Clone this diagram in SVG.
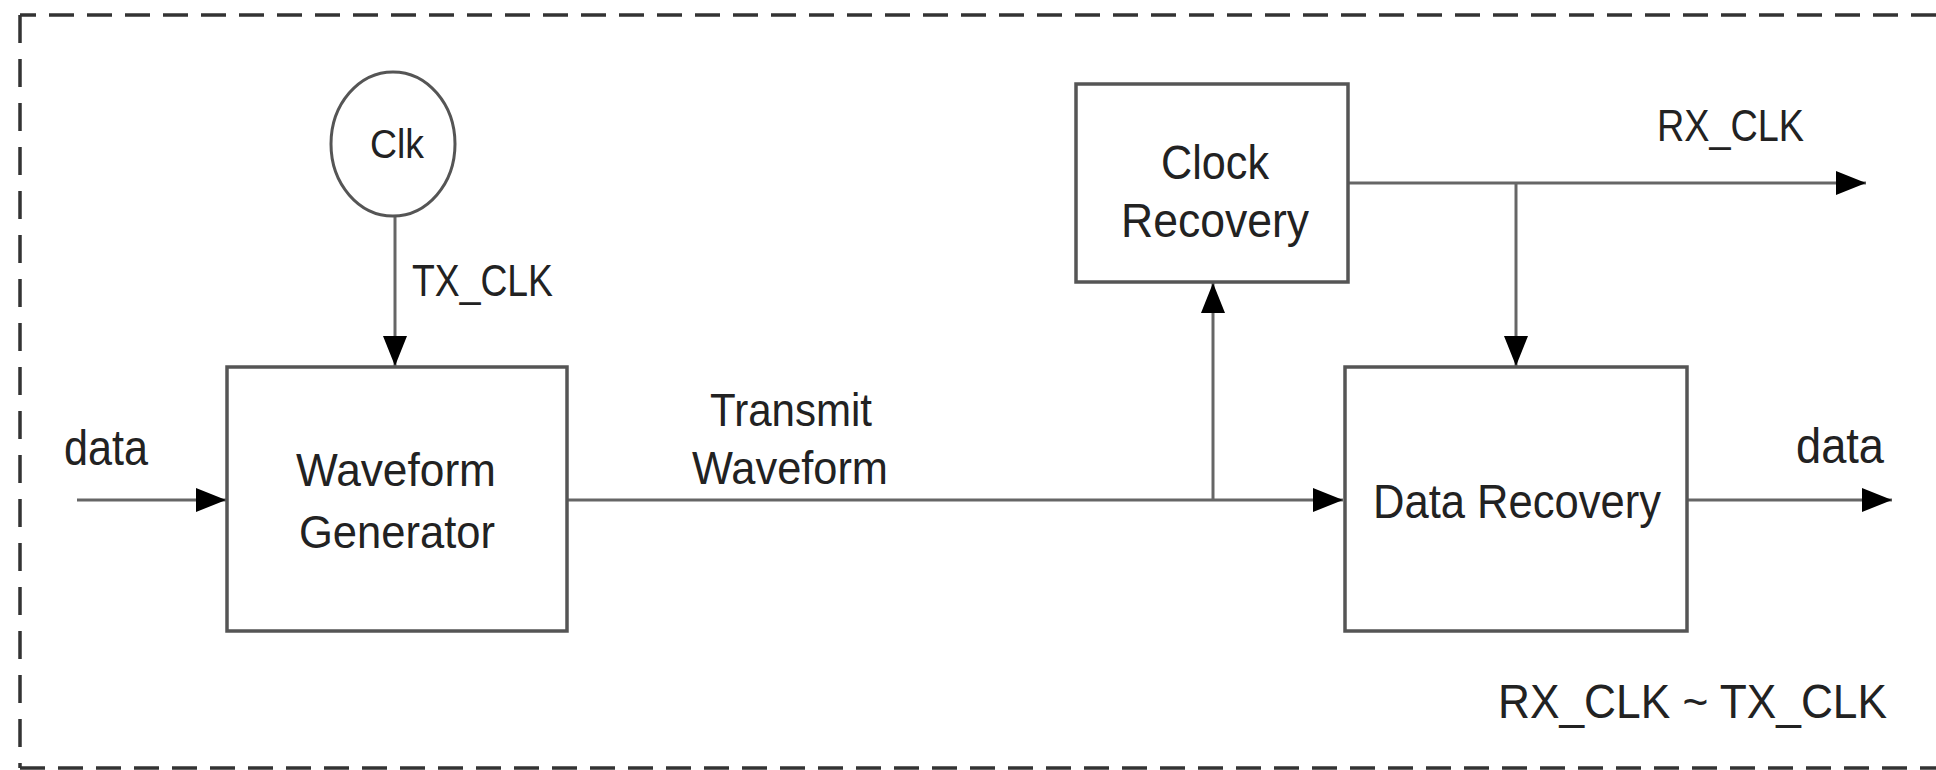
<svg xmlns="http://www.w3.org/2000/svg" width="1936" height="770" viewBox="0 0 1936 770">
<style>
text{font-family:"Liberation Sans",Arial,sans-serif;fill:#222;}
.box{fill:#fff;stroke:#555;stroke-width:3.5;}
.wire{fill:none;stroke:#666;stroke-width:3;}
.frame{fill:none;stroke:#333;stroke-width:3.5;}
</style>
<defs>
<marker id="arr" markerUnits="userSpaceOnUse" markerWidth="32" markerHeight="26" refX="30" refY="12" orient="auto">
<polygon points="0,0 30,12 0,24" fill="#000"/>
</marker>
</defs>
<rect width="1936" height="770" fill="#fff"/>
<path class="frame" d="M1936 15 H20" stroke-dasharray="25 13"/>
<path class="frame" d="M20 15 V768" stroke-dasharray="28 16"/>
<path class="frame" d="M20 768 H1936" stroke-dasharray="25 13" stroke="#999"/>
<g id="connectors">
<line class="wire" x1="395" y1="216" x2="395" y2="366" marker-end="url(#arr)"/>
<line class="wire" x1="77" y1="500" x2="226" y2="500" marker-end="url(#arr)"/>
<line class="wire" x1="567" y1="500" x2="1343" y2="500" marker-end="url(#arr)"/>
<line class="wire" x1="1213" y1="500" x2="1213" y2="283" marker-end="url(#arr)"/>
<line class="wire" x1="1348" y1="183" x2="1866" y2="183" marker-end="url(#arr)"/>
<line class="wire" x1="1516" y1="183" x2="1516" y2="366" marker-end="url(#arr)"/>
<line class="wire" x1="1687" y1="500" x2="1892" y2="500" marker-end="url(#arr)"/>
<text x="412" y="296" font-size="45" textLength="141" lengthAdjust="spacingAndGlyphs">TX_CLK</text>
<text x="64" y="465" font-size="50" textLength="84" lengthAdjust="spacingAndGlyphs">data</text>
<text x="710" y="426" font-size="47" textLength="162" lengthAdjust="spacingAndGlyphs">Transmit</text>
<text x="692" y="484" font-size="47" textLength="196" lengthAdjust="spacingAndGlyphs">Waveform</text>
<text x="1657" y="141" font-size="45" textLength="147" lengthAdjust="spacingAndGlyphs">RX_CLK</text>
<text x="1796" y="463" font-size="50" textLength="88" lengthAdjust="spacingAndGlyphs">data</text>
</g>
<g id="clk">
<ellipse cx="393" cy="144" rx="62" ry="72" fill="#fff" stroke="#555" stroke-width="3"/>
<text x="370" y="158" font-size="41" textLength="54" lengthAdjust="spacingAndGlyphs">Clk</text>
</g>
<g id="waveform-generator">
<rect class="box" x="227" y="367" width="340" height="264"/>
<text x="296" y="486" font-size="47" textLength="200" lengthAdjust="spacingAndGlyphs">Waveform</text>
<text x="299" y="548" font-size="47" textLength="196" lengthAdjust="spacingAndGlyphs">Generator</text>
</g>
<g id="clock-recovery">
<rect class="box" x="1076" y="84" width="272" height="198"/>
<text x="1161" y="179" font-size="48" textLength="108" lengthAdjust="spacingAndGlyphs">Clock</text>
<text x="1121" y="237" font-size="48" textLength="188" lengthAdjust="spacingAndGlyphs">Recovery</text>
</g>
<g id="data-recovery">
<rect class="box" x="1345" y="367" width="342" height="264"/>
<text x="1373" y="518" font-size="48" textLength="288" lengthAdjust="spacingAndGlyphs">Data Recovery</text>
</g>
<g id="note">
<text x="1498" y="718" font-size="48" textLength="389" lengthAdjust="spacingAndGlyphs">RX_CLK ~ TX_CLK</text>
</g>
</svg>
